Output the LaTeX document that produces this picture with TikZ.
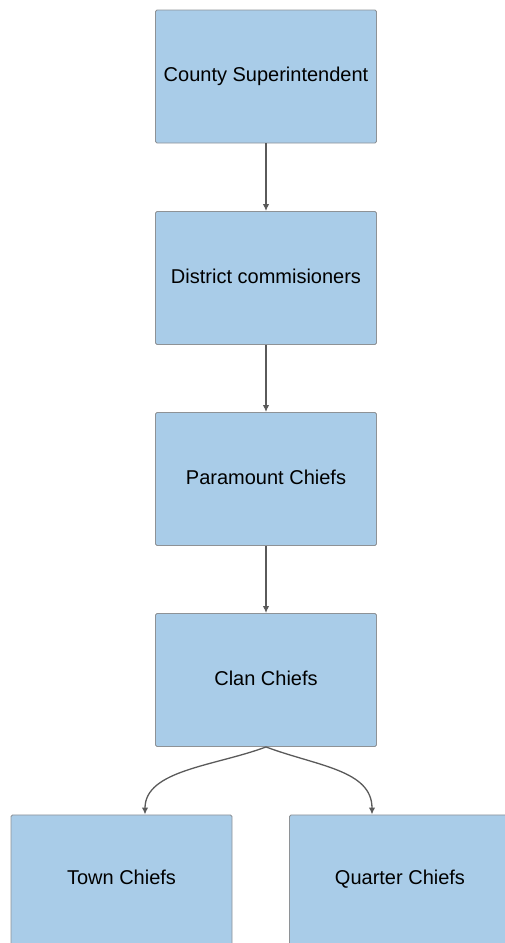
\documentclass[tikz,border=0pt]{standalone}
\usepackage{fontspec}
\setmainfont{Liberation Sans}
\usetikzlibrary{arrows.meta}
\definecolor{boxfill}{HTML}{A9CCE8}
\definecolor{boxline}{HTML}{8E9296}
\definecolor{linkcol}{HTML}{5A5A5A}
\begin{document}
\begin{tikzpicture}[x=1pt,y=-1pt,
  boxtext/.style={font=\fontsize{20}{24}\selectfont, text=black,
    text height=14.5pt, text depth=4pt},
  orgbox/.style={rectangle, rounded corners=1.5pt, fill=boxfill, draw=boxline,
    line width=0.9pt, minimum width=221pt, minimum height=133pt, inner sep=0pt,
    boxtext},
  link/.style={draw=linkcol, line width=1.3pt,
    -{Latex[length=7pt,width=6.5pt]}}]
\useasboundingbox (0,0) rectangle (505,943);
\clip (0,0) rectangle (505,943);
\node[orgbox] (cs) at (266,76.5) {County Superintendent};
\node[orgbox] (dc) at (266,278) {District commisioners};
\node[orgbox] (pc) at (266,479) {Paramount Chiefs};
\node[orgbox] (cc) at (266,680) {Clan Chiefs};
\node[orgbox, anchor=north] (tc) at (121.5,814.5) {};
\node[orgbox, anchor=north] (qc) at (400,814.5) {};
\node[boxtext] (tct) at (121.5,879) {Town Chiefs};
\node[boxtext] (qct) at (400,879) {Quarter Chiefs};
\draw[link] (cs.south) -- (dc.north);
\draw[link] (dc.south) -- (pc.north);
\draw[link] (pc.south) -- (cc.north);
\coordinate (tcin) at (145,814.5);
\coordinate (qcin) at (372,814.5);
\draw[link] (cc.south) .. controls (215,766) and (145,770) .. (tcin);
\draw[link] (cc.south) .. controls (317,766) and (372,770) .. (qcin);
\end{tikzpicture}
\end{document}
